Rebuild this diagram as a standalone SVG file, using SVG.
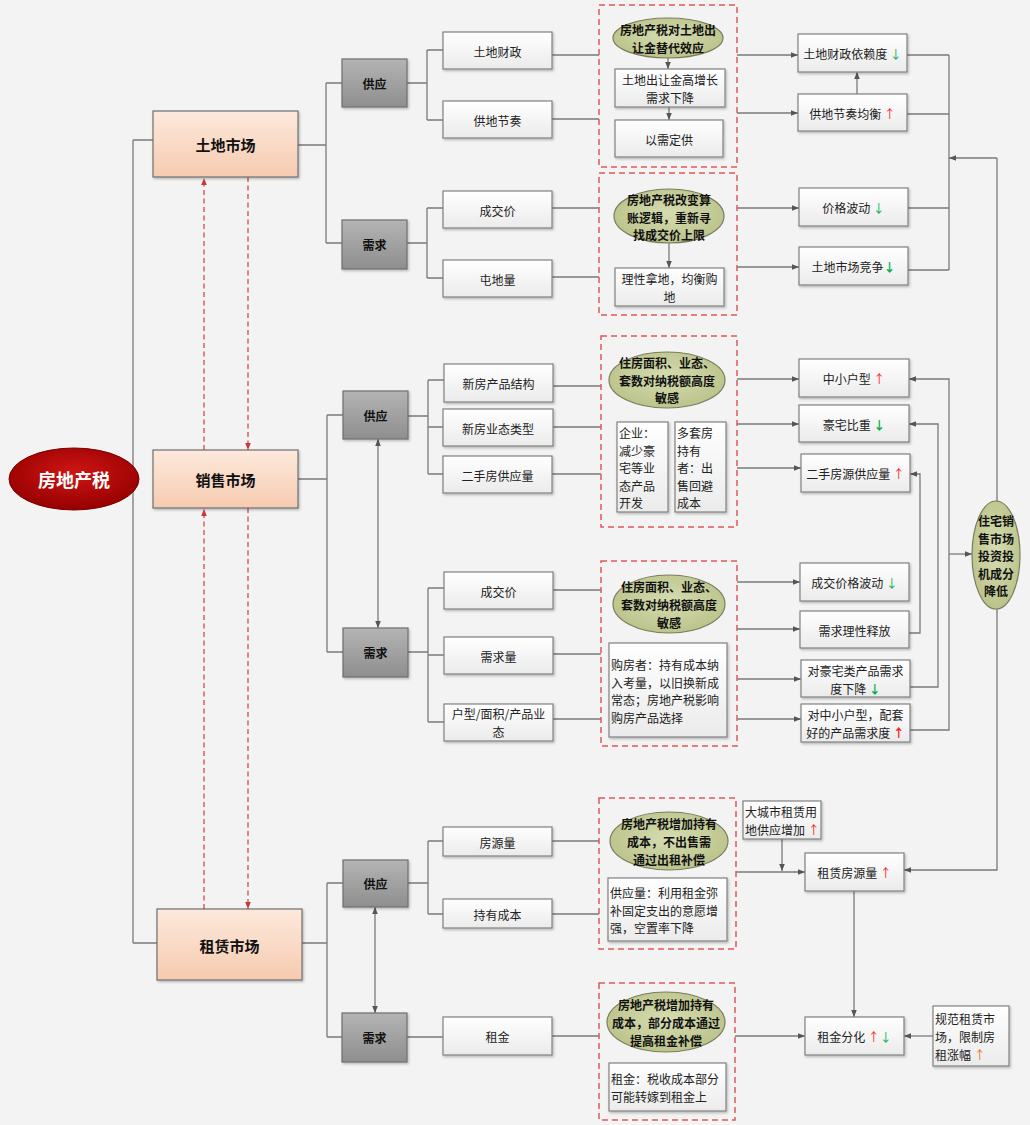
<svg xmlns="http://www.w3.org/2000/svg" width="1030" height="1125" viewBox="0 0 1030 1125">
<style>
.ln{fill:none;stroke:#7a7a7a;stroke-width:1.3}
.ar{marker-end:url(#ah)}
.ar2{marker-start:url(#ah);marker-end:url(#ah)}
.rd{fill:none;stroke:#d24a4d;stroke-width:1.3;stroke-dasharray:5 3.5;marker-end:url(#rah)}
.wb{fill:url(#gw);stroke:#808080;stroke-width:1.2;filter:url(#sh)}
.gb{fill:url(#gg);stroke:#6e6e6e;stroke-width:1.2;filter:url(#sh)}
.mb{fill:url(#gm);stroke:#6e6e6e;stroke-width:1.2;filter:url(#sh)}
.db{fill:none;stroke:#e0585c;stroke-width:1.5;stroke-dasharray:6 4}
.el{fill:url(#ge);stroke:#7c7c5c;stroke-width:1.2}
text{font-family:"Noto Sans CJK SC","Noto Sans",sans-serif;font-size:12px;fill:#222;dominant-baseline:central}
.c{text-anchor:middle}
.b{font-weight:bold;fill:#111}
.mk{font-size:15px}
.up{fill:#ff1a1a}
.dn{fill:#00b050}
</style>
<defs>
<marker id="ah" viewBox="0 0 10 10" refX="10" refY="5" markerWidth="7" markerHeight="7" markerUnits="userSpaceOnUse" orient="auto-start-reverse"><path d="M0,1 L10,5 L0,9 z" fill="#555"/></marker>
<marker id="rah" viewBox="0 0 10 10" refX="10" refY="5" markerWidth="7" markerHeight="7" markerUnits="userSpaceOnUse" orient="auto"><path d="M0,1 L10,5 L0,9 z" fill="#c8383c"/></marker>
<linearGradient id="gw" x1="0" y1="0" x2="0" y2="1"><stop offset="0" stop-color="#ffffff"/><stop offset="1" stop-color="#ebebeb"/></linearGradient>
<linearGradient id="gg" x1="0" y1="0" x2="0" y2="1"><stop offset="0" stop-color="#b4b4b4"/><stop offset="1" stop-color="#8e8e8e"/></linearGradient>
<linearGradient id="gm" x1="0" y1="0" x2="0" y2="1"><stop offset="0" stop-color="#fde9dc"/><stop offset="1" stop-color="#f6cbb0"/></linearGradient>
<radialGradient id="ge" cx="0.5" cy="0.45" r="0.6"><stop offset="0" stop-color="#d6dcb0"/><stop offset="1" stop-color="#b9c188"/></radialGradient>
<radialGradient id="gr" cx="0.5" cy="0.4" r="0.6"><stop offset="0" stop-color="#d01515"/><stop offset="1" stop-color="#960000"/></radialGradient>
<filter id="sh" x="-10%" y="-10%" width="130%" height="140%"><feDropShadow dx="1.2" dy="1.5" stdDeviation="1" flood-color="#000" flood-opacity="0.25"/></filter>
</defs>
<rect x="0" y="0" width="1030" height="1125" fill="#f3f3f3"/>

<g id="connectors">
<path class="ln" d="M133,140 V943 M133,140 H153 M133,943 H157"/>
<path class="ln" d="M298,145 H326 M326,83 V243 M326,83 H342 M326,243 H342"/>
<path class="ln" d="M407,83 H427 M427,50 V120 M427,50 H443 M427,120 H443 M552,55 H599 M552,119 H599"/>
<path class="ln" d="M407,243 H427 M427,208 V278 M427,208 H443 M427,278 H443 M552,208 H599 M552,277 H599"/>
<path class="ln ar" d="M668,58 V69"/>
<path class="ln ar" d="M669,107 V120"/>
<path class="ln ar" d="M669,243 V268"/>
<path class="ln ar" d="M737,55 H798"/>
<path class="ln ar" d="M737,113 H798"/>
<path class="ln ar" d="M737,208 H799"/>
<path class="ln ar" d="M737,267 H799"/>
<path class="ln ar" d="M857,94 V72"/>
<path class="ln" d="M907,55 H949 M907,114 H949 M908,208 H949 M908,270 H949 M949,55 V270"/>
<path class="ln ar" d="M997,158 H949"/>
<path class="ln ar" d="M997,158 V870 H904"/>
<path class="ln" d="M298,479 H327 M327,415 V652 M327,415 H343 M327,652 H343"/>
<path class="ln" d="M408,416 H428 M428,380 V474 M428,380 H444 M428,427 H443 M428,474 H443 M553,386 H601 M553,427 H601 M552,474 H601"/>
<path class="ln ar" d="M737,379 H799"/>
<path class="ln ar" d="M737,424 H799"/>
<path class="ln ar" d="M737,468 H801"/>
<path class="ln ar2" d="M378,439 V628"/>
<path class="ln" d="M408,652 H428 M428,588 V722 M428,588 H444 M428,655 H444 M428,722 H444 M553,590 H601 M553,654 H601 M553,719 H601"/>
<path class="ln ar" d="M737,582 H800"/>
<path class="ln ar" d="M737,629 H800"/>
<path class="ln ar" d="M737,679 H801"/>
<path class="ln ar" d="M737,719 H801"/>
<path class="ln ar" d="M910,730 H949 V379 H909"/>
<path class="ln ar" d="M949,554 H972"/>
<path class="ln ar" d="M910,687 H938 V424 H909"/>
<path class="ln ar" d="M909,633 H920 V474 H910"/>
<path class="ln" d="M302,943 H327 M327,883 V1037 M327,883 H343 M327,1037 H342"/>
<path class="ln" d="M408,883 H428 M428,841 V914 M428,841 H443 M428,914 H443 M552,841 H599 M552,914 H599"/>
<path class="ln ar" d="M736,872 H805"/>
<path class="ln ar" d="M782,839 V871"/>
<path class="ln ar2" d="M375,907 V1013"/>
<path class="ln" d="M407,1037 H443 M552,1036 H599"/>
<path class="ln ar" d="M735,1036 H805"/>
<path class="ln ar" d="M933,1036 H904"/>
<path class="ln ar" d="M854,891 V1017"/>
<path class="rd" d="M204,909 V509"/>
<path class="rd" d="M204,450 V178"/>
<path class="rd" d="M248,177 V450"/>
<path class="rd" d="M248,508 V909"/>
</g>

<g id="root"><ellipse cx="74" cy="479" rx="65" ry="31" fill="url(#gr)" stroke="#7a0000" stroke-width="1"/><text class="c b" x="74" y="479" style="fill:#fff;font-size:18px">房地产税</text></g>

<g id="m-land"><rect class="mb" x="153" y="111" width="145" height="66"/><text class="c b mk" x="225.5" y="144">土地市场</text></g>
<g id="m-sale"><rect class="mb" x="153" y="450" width="145" height="58"/><text class="c b mk" x="225.5" y="479">销售市场</text></g>
<g id="m-rent"><rect class="mb" x="157" y="909" width="145" height="71"/><text class="c b mk" x="229.5" y="945">租赁市场</text></g>

<g id="l-supply"><rect class="gb" x="342" y="59" width="65" height="48"/><text class="c b" x="374.5" y="83">供应</text></g>
<g id="l-demand"><rect class="gb" x="342" y="220" width="65" height="49"/><text class="c b" x="374.5" y="244">需求</text></g>
<g id="s-supply"><rect class="gb" x="343" y="391" width="65" height="48"/><text class="c b" x="375.5" y="415">供应</text></g>
<g id="s-demand"><rect class="gb" x="343" y="628" width="65" height="49"/><text class="c b" x="375.5" y="652">需求</text></g>
<g id="r-supply"><rect class="gb" x="343" y="860" width="65" height="47"/><text class="c b" x="375.5" y="883">供应</text></g>
<g id="r-demand"><rect class="gb" x="342" y="1013" width="65" height="49"/><text class="c b" x="374.5" y="1037">需求</text></g>

<g id="n-tdcz"><rect class="wb" x="443" y="32" width="109" height="37"/><text class="c" x="497.5" y="51">土地财政</text></g>
<g id="n-gdjz"><rect class="wb" x="443" y="101" width="109" height="37"/><text class="c" x="497.5" y="120">供地节奏</text></g>
<g id="n-cjj1"><rect class="wb" x="443" y="191" width="109" height="37"/><text class="c" x="497.5" y="210">成交价</text></g>
<g id="n-tdl"><rect class="wb" x="443" y="260" width="109" height="37"/><text class="c" x="497.5" y="279">屯地量</text></g>
<g id="n-xfcp"><rect class="wb" x="444" y="364" width="109" height="38"/><text class="c" x="498.5" y="383">新房产品结构</text></g>
<g id="n-xfyt"><rect class="wb" x="443" y="409" width="110" height="37"/><text class="c" x="498" y="428">新房业态类型</text></g>
<g id="n-esf"><rect class="wb" x="443" y="456" width="109" height="37"/><text class="c" x="497.5" y="475">二手房供应量</text></g>
<g id="n-cjj2"><rect class="wb" x="444" y="572" width="109" height="37"/><text class="c" x="498.5" y="591">成交价</text></g>
<g id="n-xql"><rect class="wb" x="444" y="637" width="109" height="37"/><text class="c" x="498.5" y="656">需求量</text></g>
<g id="n-hx"><rect class="wb" x="444" y="704" width="109" height="37"/><text class="c" x="498.5" y="713.8">户型/面积/产品业<tspan x="498.5" dy="17.5">态</tspan></text></g>
<g id="n-fyl"><rect class="wb" x="443" y="827" width="109" height="29"/><text class="c" x="497.5" y="842">房源量</text></g>
<g id="n-cycb"><rect class="wb" x="443" y="899" width="109" height="29"/><text class="c" x="497.5" y="914">持有成本</text></g>
<g id="n-zj"><rect class="wb" x="443" y="1017" width="109" height="38"/><text class="c" x="497.5" y="1036">租金</text></g>

<g id="d1"><rect class="db" x="599" y="5" width="138" height="162"/>
<ellipse class="el" cx="668" cy="38" rx="55" ry="20"/><text class="c b" x="668" y="29">房地产税对土地出<tspan x="668" dy="17.5">让金替代效应</tspan></text>
<rect class="wb" x="615" y="69" width="110" height="38"/><text class="c" x="670" y="79.5">土地出让金高增长<tspan x="670" dy="17.5">需求下降</tspan></text>
<rect class="wb" x="615" y="120" width="108" height="37"/><text class="c" x="669" y="139">以需定供</text></g>

<g id="d2"><rect class="db" x="599" y="173" width="138" height="142"/>
<ellipse class="el" cx="669" cy="216" rx="55" ry="27"/><text class="c b" x="669" y="199">房地产税改变算<tspan x="669" dy="17.5">账逻辑，重新寻</tspan><tspan x="669" dy="17.5">找成交价上限</tspan></text>
<rect class="wb" x="615" y="268" width="109" height="38"/><text class="c" x="669.5" y="278.5">理性拿地，均衡购<tspan x="669.5" dy="17.5">地</tspan></text></g>

<g id="d3"><rect class="db" x="601" y="336" width="136" height="191"/>
<ellipse class="el" cx="667" cy="380" rx="58" ry="28"/><text class="c b" x="667" y="362">住房面积、业态、<tspan x="667" dy="17.5">套数对纳税额高度</tspan><tspan x="667" dy="17.5">敏感</tspan></text>
<rect class="wb" x="617" y="422" width="51" height="90"/><text x="619" y="432">企业：<tspan x="619" dy="17.5">减少豪</tspan><tspan x="619" dy="17.5">宅等业</tspan><tspan x="619" dy="17.5">态产品</tspan><tspan x="619" dy="17.5">开发</tspan></text>
<rect class="wb" x="675" y="422" width="51" height="90"/><text x="677" y="432">多套房<tspan x="677" dy="17.5">持有</tspan><tspan x="677" dy="17.5">者：出</tspan><tspan x="677" dy="17.5">售回避</tspan><tspan x="677" dy="17.5">成本</tspan></text></g>

<g id="d4"><rect class="db" x="601" y="561" width="136" height="185"/>
<ellipse class="el" cx="669" cy="604" rx="56" ry="29"/><text class="c b" x="669" y="586.5">住房面积、业态、<tspan x="669" dy="17.5">套数对纳税额高度</tspan><tspan x="669" dy="17.5">敏感</tspan></text>
<rect class="wb" x="609" y="643" width="118" height="94"/><text x="611" y="664">购房者：持有成本纳<tspan x="611" dy="17.5">入考量，以旧换新成</tspan><tspan x="611" dy="17.5">常态；房地产税影响</tspan><tspan x="611" dy="17.5">购房产品选择</tspan></text></g>

<g id="d5"><rect class="db" x="599" y="798" width="137" height="151"/>
<ellipse class="el" cx="669" cy="841" rx="59" ry="29"/><text class="c b" x="669" y="823.5">房地产税增加持有<tspan x="669" dy="17.5">成本，不出售需</tspan><tspan x="669" dy="17.5">通过出租补偿</tspan></text>
<rect class="wb" x="608" y="878" width="119" height="63"/><text x="610" y="892">供应量：利用租金弥<tspan x="610" dy="17.5">补固定支出的意愿增</tspan><tspan x="610" dy="17.5">强，空置率下降</tspan></text></g>

<g id="d6"><rect class="db" x="599" y="983" width="136" height="137"/>
<ellipse class="el" cx="666" cy="1022" rx="59" ry="30"/><text class="c b" x="666" y="1004">房地产税增加持有<tspan x="666" dy="18">成本，部分成本通过</tspan><tspan x="666" dy="18">提高租金补偿</tspan></text>
<rect class="wb" x="609" y="1063" width="117" height="48"/><text x="611" y="1078.5">租金：税收成本部分<tspan x="611" dy="17.5">可能转嫁到租金上</tspan></text></g>

<g id="r1"><rect class="wb" x="798" y="34" width="109" height="38"/><text class="c" x="852.5" y="53">土地财政依赖度 <tspan class="dn">↓</tspan></text></g>
<g id="r2"><rect class="wb" x="798" y="94" width="109" height="37"/><text class="c" x="852.5" y="113">供地节奏均衡 <tspan class="up">↑</tspan></text></g>
<g id="r3"><rect class="wb" x="799" y="188" width="109" height="38"/><text class="c" x="853.5" y="207">价格波动 <tspan class="dn">↓</tspan></text></g>
<g id="r4"><rect class="wb" x="799" y="247" width="109" height="38"/><text class="c" x="853.5" y="266">土地市场竞争<tspan class="dn b">↓</tspan></text></g>
<g id="r5"><rect class="wb" x="799" y="359" width="110" height="38"/><text class="c" x="854" y="378">中小户型 <tspan class="up">↑</tspan></text></g>
<g id="r6"><rect class="wb" x="799" y="405" width="110" height="37"/><text class="c" x="854" y="424">豪宅比重 <tspan class="dn b">↓</tspan></text></g>
<g id="r7"><rect class="wb" x="801" y="454" width="109" height="38"/><text class="c" x="855.5" y="473">二手房源供应量 <tspan class="up">↑</tspan></text></g>
<g id="r8"><rect class="wb" x="800" y="563" width="109" height="38"/><text class="c" x="854.5" y="582">成交价格波动 <tspan class="dn">↓</tspan></text></g>
<g id="r9"><rect class="wb" x="800" y="611" width="109" height="37"/><text class="c" x="854.5" y="630">需求理性释放</text></g>
<g id="r10"><rect class="wb" x="801" y="660" width="109" height="37"/><text class="c" x="855.5" y="670">对豪宅类产品需求<tspan x="855.5" dy="17.5">度下降 </tspan><tspan class="dn b">↓</tspan></text></g>
<g id="r11"><rect class="wb" x="801" y="704" width="109" height="38"/><text class="c" x="855.5" y="714.5">对中小户型，配套<tspan x="855.5" dy="17.5">好的产品需求度 </tspan><tspan class="up b">↑</tspan></text></g>
<g id="r-ellipse"><ellipse class="el" cx="996" cy="555" rx="24" ry="54"/><text class="c b" x="996" y="520">住宅销<tspan x="996" dy="17.5">售市场</tspan><tspan x="996" dy="17.5">投资投</tspan><tspan x="996" dy="17.5">机成分</tspan><tspan x="996" dy="17.5">降低</tspan></text></g>
<g id="r12"><rect class="wb" x="743" y="801" width="78" height="38"/><text x="745" y="811.5">大城市租赁用<tspan x="745" dy="17.5">地供应增加 </tspan><tspan class="up">↑</tspan></text></g>
<g id="r13"><rect class="wb" x="805" y="853" width="99" height="38"/><text class="c" x="854.5" y="872">租赁房源量 <tspan class="up">↑</tspan></text></g>
<g id="r14"><rect class="wb" x="805" y="1017" width="99" height="38"/><text class="c" x="854.5" y="1036">租金分化 <tspan class="up">↑</tspan><tspan class="dn">↓</tspan></text></g>
<g id="r15"><rect class="wb" x="933" y="1006" width="76" height="60"/><text x="935" y="1018.5">规范租赁市<tspan x="935" dy="17.5">场，限制房</tspan><tspan x="935" dy="17.5">租涨幅 </tspan><tspan style="fill:#f07020">↑</tspan></text></g>
</svg>
